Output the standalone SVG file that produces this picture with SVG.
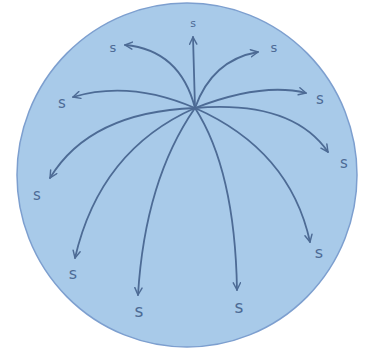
<svg xmlns="http://www.w3.org/2000/svg" width="368" height="351" viewBox="0 0 368 351">
<style>
.c{fill:none;stroke:#4d6b95;stroke-width:1.8;stroke-linecap:round;marker-end:url(#ah)}
.t{font-family:"Comic Sans MS","DejaVu Sans",sans-serif;fill:#4d6b95;text-anchor:middle}
</style>
<defs>
<marker id="ah" viewBox="0 0 10 10" refX="9" refY="5" markerWidth="9" markerHeight="9" orient="auto" markerUnits="userSpaceOnUse">
<path d="M1,1 L9,5 L1,9" fill="none" stroke="#4d6b95" stroke-width="1.6" stroke-linecap="round" stroke-linejoin="round"/>
</marker>
</defs>
<g id="sphere"><ellipse cx="187" cy="175" rx="170" ry="172" fill="#a8cae9" stroke="#7d9fcf" stroke-width="1.5"/></g>
<g id="connectors">
<path class="c" d="M195,108 L193,37"/>
<path class="c" d="M195,108 Q180,50 125,45"/>
<path class="c" d="M195,108 Q212,60 258,52"/>
<path class="c" d="M195,108 Q130,80 73,97"/>
<path class="c" d="M195,108 Q262,82 306,93"/>
<path class="c" d="M195,108 Q292,100 328,152"/>
<path class="c" d="M195,108 Q90,112 50,178"/>
<path class="c" d="M195,108 Q100,150 75,258"/>
<path class="c" d="M195,108 Q145,180 138,295"/>
<path class="c" d="M195,108 Q235,170 237,290"/>
<path class="c" d="M195,108 Q290,150 310,242"/>
</g>
<g id="labels">
<text class="t" x="193" y="27" font-size="11">s</text>
<text class="t" x="113" y="52" font-size="13">s</text>
<text class="t" x="274" y="52" font-size="13">s</text>
<text class="t" x="62" y="108" font-size="15">s</text>
<text class="t" x="320" y="104" font-size="15">s</text>
<text class="t" x="344" y="168" font-size="15">s</text>
<text class="t" x="37" y="200" font-size="15">s</text>
<text class="t" x="73" y="279" font-size="16">s</text>
<text class="t" x="139" y="317" font-size="17">s</text>
<text class="t" x="239" y="313" font-size="17">s</text>
<text class="t" x="319" y="258" font-size="16">s</text>
</g>
</svg>
